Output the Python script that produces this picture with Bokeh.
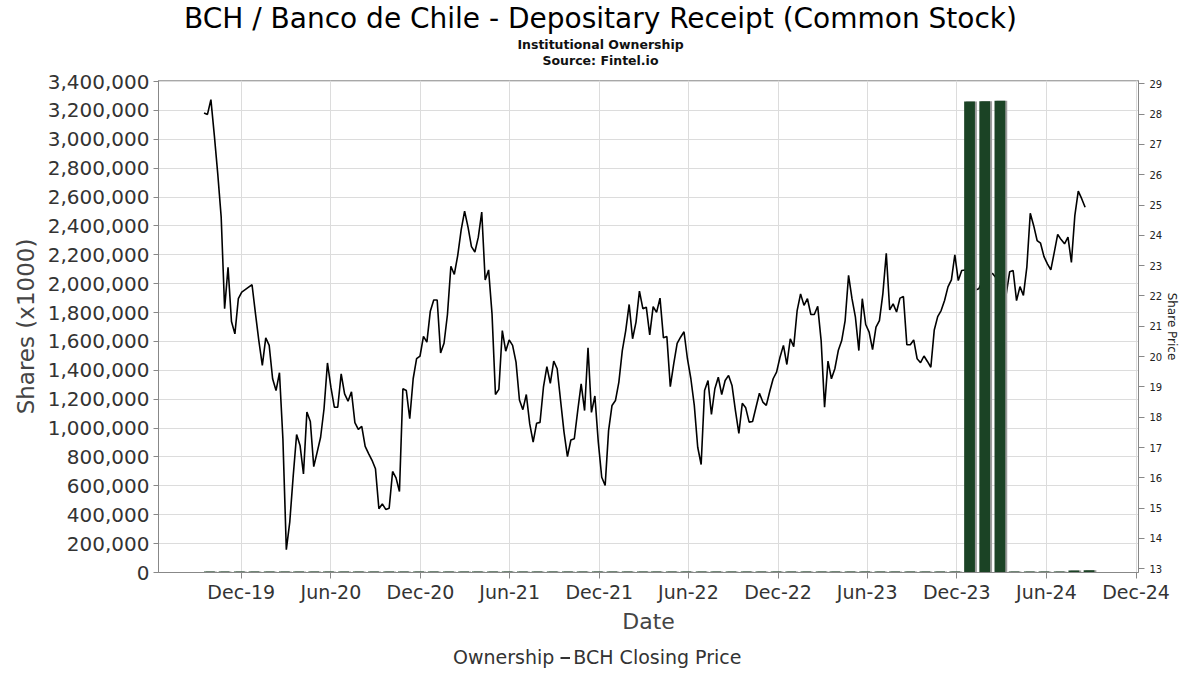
import pandas as pd
from bokeh.plotting import figure
from bokeh.layouts import column
from bokeh.models import (Range1d, LinearAxis, FixedTicker, SingleIntervalTicker,
                          NumeralTickFormatter, DatetimeTickFormatter, Legend, LegendItem,
                          Label, ColumnDataSource, CDSView, IndexFilter)
from bokeh.transform import dodge
from bokeh.embed import file_html
from bokeh.resources import INLINE

FONT = "DejaVu Sans"

# ---- data -------------------------------------------------------------
title_text = "BCH / Banco de Chile - Depositary Receipt (Common Stock)"
subtitle_1 = "Institutional Ownership"
subtitle_2 = "Source: Fintel.io"

price_start = "2019-09-16"   # weekly closing prices
price_close = [
    28.04, 27.99, 28.48, 27.30, 26.03, 24.60, 21.58, 22.95, 21.16, 20.75,
    21.91, 22.13, 22.21, 22.29, 22.37, 21.42, 20.51, 19.71, 20.62, 20.37,
    19.27, 18.88, 19.47, 17.29, 13.63, 14.54, 16.05, 17.43, 17.07, 16.13,
    18.17, 17.86, 16.37, 16.85, 17.34, 18.28, 19.79, 18.99, 18.33, 18.33,
    19.43, 18.77, 18.53, 18.84, 17.82, 17.60, 17.70, 17.04, 16.80, 16.58,
    16.30, 14.98, 15.14, 14.96, 15.00, 16.21, 16.00, 15.55, 18.94, 18.88,
    17.95, 19.27, 19.93, 20.02, 20.67, 20.48, 21.50, 21.87, 21.87, 20.12,
    20.44, 21.39, 22.98, 22.71, 23.34, 24.18, 24.80, 24.27, 23.63, 23.45,
    23.94, 24.77, 22.53, 22.86, 21.41, 18.75, 18.92, 20.86, 20.18, 20.55,
    20.37, 19.82, 18.57, 18.25, 18.75, 17.78, 17.18, 17.80, 17.83, 18.99,
    19.67, 19.12, 19.85, 19.60, 18.55, 17.51, 16.70, 17.25, 17.29, 18.22,
    19.10, 18.22, 20.29, 18.16, 18.70, 17.18, 16.02, 15.75, 17.56, 18.39,
    18.55, 19.16, 20.20, 20.86, 21.72, 20.59, 21.14, 22.16, 21.58, 21.63,
    20.72, 21.65, 21.46, 21.93, 20.62, 20.66, 19.01, 19.76, 20.44, 20.64,
    20.82, 19.93, 19.27, 18.39, 17.01, 16.44, 18.88, 19.21, 18.09, 18.94,
    19.32, 18.75, 19.21, 19.38, 19.05, 18.22, 17.47, 18.46, 18.31, 17.84,
    17.86, 18.33, 18.79, 18.50, 18.39, 18.85, 19.27, 19.49, 19.98, 20.37,
    19.74, 20.59, 20.33, 21.52, 22.07, 21.69, 21.91, 21.39, 21.39, 21.66,
    20.53, 18.33, 19.85, 19.27, 19.60, 20.20, 20.53, 21.19, 22.68, 21.91,
    21.30, 20.20, 21.91, 21.06, 20.81, 20.23, 20.97, 21.19, 22.07, 23.41,
    21.54, 21.74, 21.47, 21.93, 21.98, 20.39, 20.39, 20.55, 19.93, 19.80,
    20.02, 19.84, 19.65, 20.88, 21.32, 21.52, 21.85, 22.30, 22.53, 23.36,
    22.51, 22.84, 22.86, 22.60, 22.40, 22.20, 22.24, 22.50, 22.60, 22.70,
    22.74, 22.60, 22.30, 22.10, 22.07, 22.80, 22.84, 21.85, 22.31, 22.02,
    22.95, 24.73, 24.32, 23.83, 23.74, 23.30, 23.06, 22.86, 23.44, 24.03,
    23.86, 23.72, 23.94, 23.11, 24.65, 25.46, 25.21, 24.93,
]

own_months = [
    "2019-09", "2019-10", "2019-11", "2019-12",
    "2020-01", "2020-02", "2020-03", "2020-04", "2020-05", "2020-06",
    "2020-07", "2020-08", "2020-09", "2020-10", "2020-11", "2020-12",
    "2021-01", "2021-02", "2021-03", "2021-04", "2021-05", "2021-06",
    "2021-07", "2021-08", "2021-09", "2021-10", "2021-11", "2021-12",
    "2022-01", "2022-02", "2022-03", "2022-04", "2022-05", "2022-06",
    "2022-07", "2022-08", "2022-09", "2022-10", "2022-11", "2022-12",
    "2023-01", "2023-02", "2023-03", "2023-04", "2023-05", "2023-06",
    "2023-07", "2023-08", "2023-09", "2023-10", "2023-11", "2023-12",
    "2024-01", "2024-02", "2024-03", "2024-04", "2024-05", "2024-06",
    "2024-07", "2024-08",
]
ownership = [
    7000, 7000, 7000, 7000,
    7000, 7000, 7000, 7000, 7000, 7000,
    7000, 7000, 7000, 7000, 7000, 7000,
    7000, 7000, 7000, 7000, 7000, 7000,
    7000, 7000, 7000, 7000, 7000, 7000,
    7000, 7000, 7000, 7000, 7000, 7000,
    7000, 7000, 7000, 7000, 7000, 7000,
    7000, 7000, 7000, 7000, 7000, 7000,
    7000, 7000, 7000, 7000, 7000, 3262000,
    3264000, 3267000, 7000, 7000, 7000, 7000,
    14000, 15000,
]

x_tick_dates = ["2019-12-01", "2020-06-01", "2020-12-01", "2021-06-01",
                "2021-12-01", "2022-06-01", "2022-12-01", "2023-06-01",
                "2023-12-01", "2024-06-01", "2024-12-01"]

# ---- sources ----------------------------------------------------------
DAY = 86400000
price_dates = pd.date_range(price_start, periods=len(price_close), freq="7D")
own_dates = pd.to_datetime([m + "-27" for m in own_months])
price_src = ColumnDataSource(dict(date=price_dates, price=price_close))
own_src = ColumnDataSource(dict(date=own_dates, shares=ownership))

BAR_GREEN = "#1b4325"
SHADOW = "#9c9c9c"
X_START = pd.Timestamp("2019-06-15")
X_END = pd.Timestamp("2024-12-06")


def bare(fig):
    fig.outline_line_color = None
    fig.grid.visible = False
    fig.background_fill_color = "white"
    fig.border_fill_color = "white"


# ---- header (titles); its frame lines up with the chart frame (x 158..1138)
HDR_H = 68
hdr = figure(width=1200, height=HDR_H, x_range=Range1d(158, 1138),
             y_range=Range1d(HDR_H, 0),
             min_border=0, toolbar_location=None, output_backend="svg",
             x_axis_location=None, y_axis_location=None)
bare(hdr)
hdr.add_layout(Label(x=600, y=17.7, text=title_text, text_align="center",
                     text_baseline="alphabetic", text_font=FONT,
                     text_font_size="28px", text_color="#000000"))
hdr.add_layout(Label(x=600, y=43.5, text=subtitle_1, text_align="center",
                     text_baseline="alphabetic", text_font=FONT,
                     text_font_size="12.5px", text_font_style="bold",
                     text_color="#111111"))
hdr.add_layout(Label(x=600, y=60, text=subtitle_2, text_align="center",
                     text_baseline="alphabetic", text_font=FONT,
                     text_font_size="12.5px", text_font_style="bold",
                     text_color="#111111"))

# ---- main chart ---------------------------------------------------------
p = figure(width=1200, height=572, x_axis_type="datetime",
           x_range=Range1d(X_START, X_END),
           y_range=Range1d(0, 3407000),
           output_backend="svg", toolbar_location=None,
           min_border_left=158, min_border_right=62,
           min_border_top=12, min_border_bottom=68)
p.extra_y_ranges = {"price": Range1d(12.878, 29.109)}
p.background_fill_color = "white"
p.border_fill_color = "white"
p.outline_line_color = "#a8a8a8"

p.line("date", "price", source=price_src, y_range_name="price",
       line_color="black", line_width=1.6)
p.vbar(x=dodge("date", 4 * DAY), top="shares", width=22 * DAY, source=own_src,
       fill_color=SHADOW, line_color=None)
p.vbar(x="date", top="shares", width=22 * DAY, source=own_src,
       fill_color=BAR_GREEN, line_color=None)

# x axis
xa = p.below[0]
xa.ticker = FixedTicker(ticks=[pd.Timestamp(d).value / 1e6 for d in x_tick_dates])
fmt = "%b-%y"
xa.formatter = DatetimeTickFormatter(milliseconds=fmt, seconds=fmt, minsec=fmt,
                                     minutes=fmt, hourmin=fmt, hours=fmt, days=fmt,
                                     months=fmt, years=fmt)
xa.axis_label = "Date"
xa.axis_label_text_font = FONT
xa.axis_label_text_font_size = "22px"
xa.axis_label_text_font_style = "normal"
xa.axis_label_text_color = "#444444"
xa.axis_label_standoff = 3
xa.major_label_text_font = FONT
xa.major_label_text_font_size = "19px"
xa.major_label_text_color = "#333333"
xa.major_label_standoff = 2
xa.major_tick_out = 6
xa.major_tick_in = 0
xa.minor_tick_out = 0
xa.minor_tick_in = 0
xa.axis_line_color = "#888888"
xa.major_tick_line_color = "#888888"

# left axis
ya = p.left[0]
ya.ticker = SingleIntervalTicker(interval=200000)
ya.formatter = NumeralTickFormatter(format="0,0")
ya.axis_label = "Shares (x1000)"
ya.axis_label_text_font = FONT
ya.axis_label_text_font_size = "23px"
ya.axis_label_text_font_style = "normal"
ya.axis_label_text_color = "#444444"
ya.axis_label_standoff = 6
ya.major_label_text_font = FONT
ya.major_label_text_font_size = "20px"
ya.major_label_text_color = "#333333"
ya.major_label_standoff = 4
ya.major_tick_out = 5
ya.major_tick_in = 0
ya.minor_tick_out = 0
ya.minor_tick_in = 0
ya.axis_line_color = "#888888"
ya.major_tick_line_color = "#888888"

# right axis
ra = LinearAxis(y_range_name="price", ticker=SingleIntervalTicker(interval=1),
                axis_label="Share Price")
ra.axis_label_text_font = FONT
ra.axis_label_text_font_size = "12px"
ra.axis_label_text_font_style = "normal"
ra.axis_label_text_color = "#222222"
ra.axis_label_standoff = 0
ra.major_label_text_font = FONT
ra.major_label_text_font_size = "10px"
ra.major_label_text_color = "#222222"
ra.major_label_standoff = 5
ra.major_tick_out = 6
ra.major_tick_in = 0
ra.minor_tick_out = 0
ra.minor_tick_in = 0
ra.axis_line_color = "#888888"
ra.major_tick_line_color = "#888888"
p.add_layout(ra, "right")

# grids
p.xgrid.grid_line_color = "#dcdcdc"
p.ygrid.grid_line_color = "#dcdcdc"
p.xgrid.ticker = xa.ticker
p.ygrid.ticker = ya.ticker

# ---- legend strip (its frame also lines up with the chart frame) -------------
# the swatch series: the bar one is filtered to no rows, and the x view lies
# years after the data, so nothing of them is drawn in this strip
leg = figure(width=1200, height=34, x_axis_type="datetime",
             x_range=Range1d(X_END + pd.Timedelta(days=2000),
                             X_END + pd.Timedelta(days=3000)),
             y_range=Range1d(0, 1),
             min_border=0, toolbar_location=None, output_backend="svg",
             x_axis_location=None, y_axis_location=None)
bare(leg)
proxy_bar = leg.vbar(x="date", top="shares", bottom="shares", width=0,
                     source=own_src, view=CDSView(filter=IndexFilter(indices=[])),
                     fill_color=BAR_GREEN, line_color=None)
proxy_line = leg.line("date", "price", source=price_src,
                      line_color="black", line_width=1.6)
legend = Legend(items=[LegendItem(label="Ownership", renderers=[proxy_bar]),
                       LegendItem(label="BCH Closing Price", renderers=[proxy_line])],
                location=(282, 6), orientation="horizontal",
                label_text_font=FONT, label_text_font_size="19px",
                label_text_color="#333333", glyph_width=10, glyph_height=13,
                label_standoff=3, spacing=6, padding=0, margin=0,
                border_line_color=None, background_fill_alpha=0)
leg.add_layout(legend, "center")

layout = column(hdr, p, leg, spacing=0)
open("out.html", "w").write(file_html(layout, INLINE))
